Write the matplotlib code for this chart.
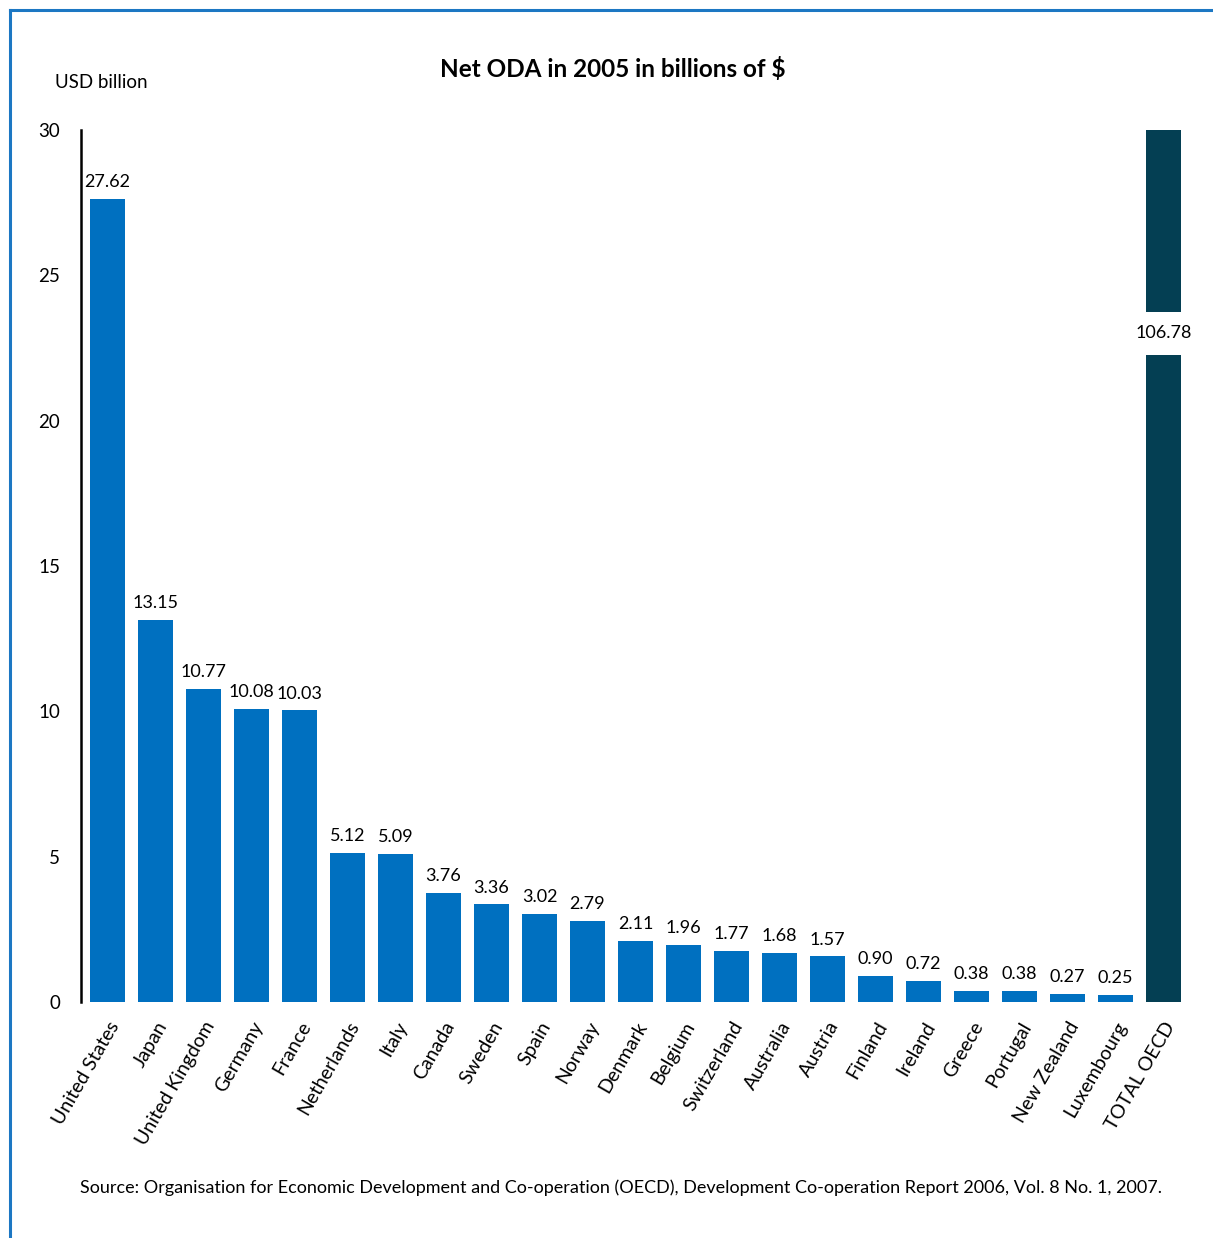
import matplotlib
matplotlib.use("Agg")
from matplotlib import pyplot as plt
from matplotlib.lines import Line2D

plt.rcParams['font.family'] = ['Lato', 'DejaVu Sans']

countries = ["United States", "Japan", "United Kingdom", "Germany", "France", "Netherlands",
             "Italy", "Canada", "Sweden", "Spain", "Norway", "Denmark", "Belgium", "Switzerland",
             "Australia", "Austria", "Finland", "Ireland", "Greece", "Portugal", "New Zealand",
             "Luxembourg"]
oda = [27.62, 13.15, 10.77, 10.08, 10.03, 5.12, 5.09, 3.76, 3.36, 3.02, 2.79, 2.11, 1.96,
       1.77, 1.68, 1.57, 0.90, 0.72, 0.38, 0.38, 0.27, 0.25]
total_label = "TOTAL OECD"
total_value = 106.78
yticks = [0, 5, 10, 15, 20, 25, 30]

W, H = 1213, 1238
fig = plt.figure(figsize=(W / 100, H / 100), dpi=100)
ax = fig.add_axes([81 / W, (H - 1002) / H, (1190 - 81) / W, (1002 - 130) / H])

x = list(range(len(countries)))
ax.bar(x, oda, width=0.73, color="#0070C0")
for xi, v in zip(x, oda):
    ax.text(xi, v + 0.3, "%.2f" % v, ha="center", va="bottom", fontsize=13)

# total bar runs off the top of the axis, value shown in a gap
xt = len(countries)
ax.bar(xt, total_value, width=0.73, color="#043F53")
ax.text(xt, 23.0, "%.2f" % total_value, ha="center", va="center", fontsize=13,
        bbox=dict(facecolor="white", edgecolor="none", pad=10))

ax.set_xlim(-0.55, xt + 0.55)
ax.set_ylim(0, 30)
ax.set_yticks(yticks)
ax.set_yticklabels([str(t) for t in yticks], fontsize=13.5)
ax.tick_params(axis="y", length=0, pad=15)
ax.set_xticks(x + [xt])
ax.set_xticklabels(countries + [total_label], rotation=60, ha="right",
                   rotation_mode="anchor", fontsize=14)
ax.tick_params(axis="x", length=0, pad=12)
for s in ["top", "right", "bottom"]:
    ax.spines[s].set_visible(False)
ax.spines["left"].set_linewidth(1.8)

fig.text(613 / W, 1 - 69 / H, "Net ODA in 2005 in billions of $", ha="center", va="center",
         fontsize=17.5, fontweight="bold")
fig.text(55 / W, 1 - 83 / H, "USD billion", ha="left", va="center", fontsize=13.5)
fig.text(621 / W, 1 - 1188 / H,
         "Source: Organisation for Economic Development and Co-operation (OECD), Development "
         "Co-operation Report 2006, Vol. 8 No. 1, 2007.",
         ha="center", va="center", fontsize=13)

# blue frame on the left and top
fig.add_artist(Line2D([9.5 / W, 9.5 / W], [0, 1 - 9.5 / H], color="#1C77C3", lw=2.2))
fig.add_artist(Line2D([9.5 / W, 1], [1 - 9.5 / H, 1 - 9.5 / H], color="#1C77C3", lw=2.2))

fig.savefig("out.png", dpi=100)
